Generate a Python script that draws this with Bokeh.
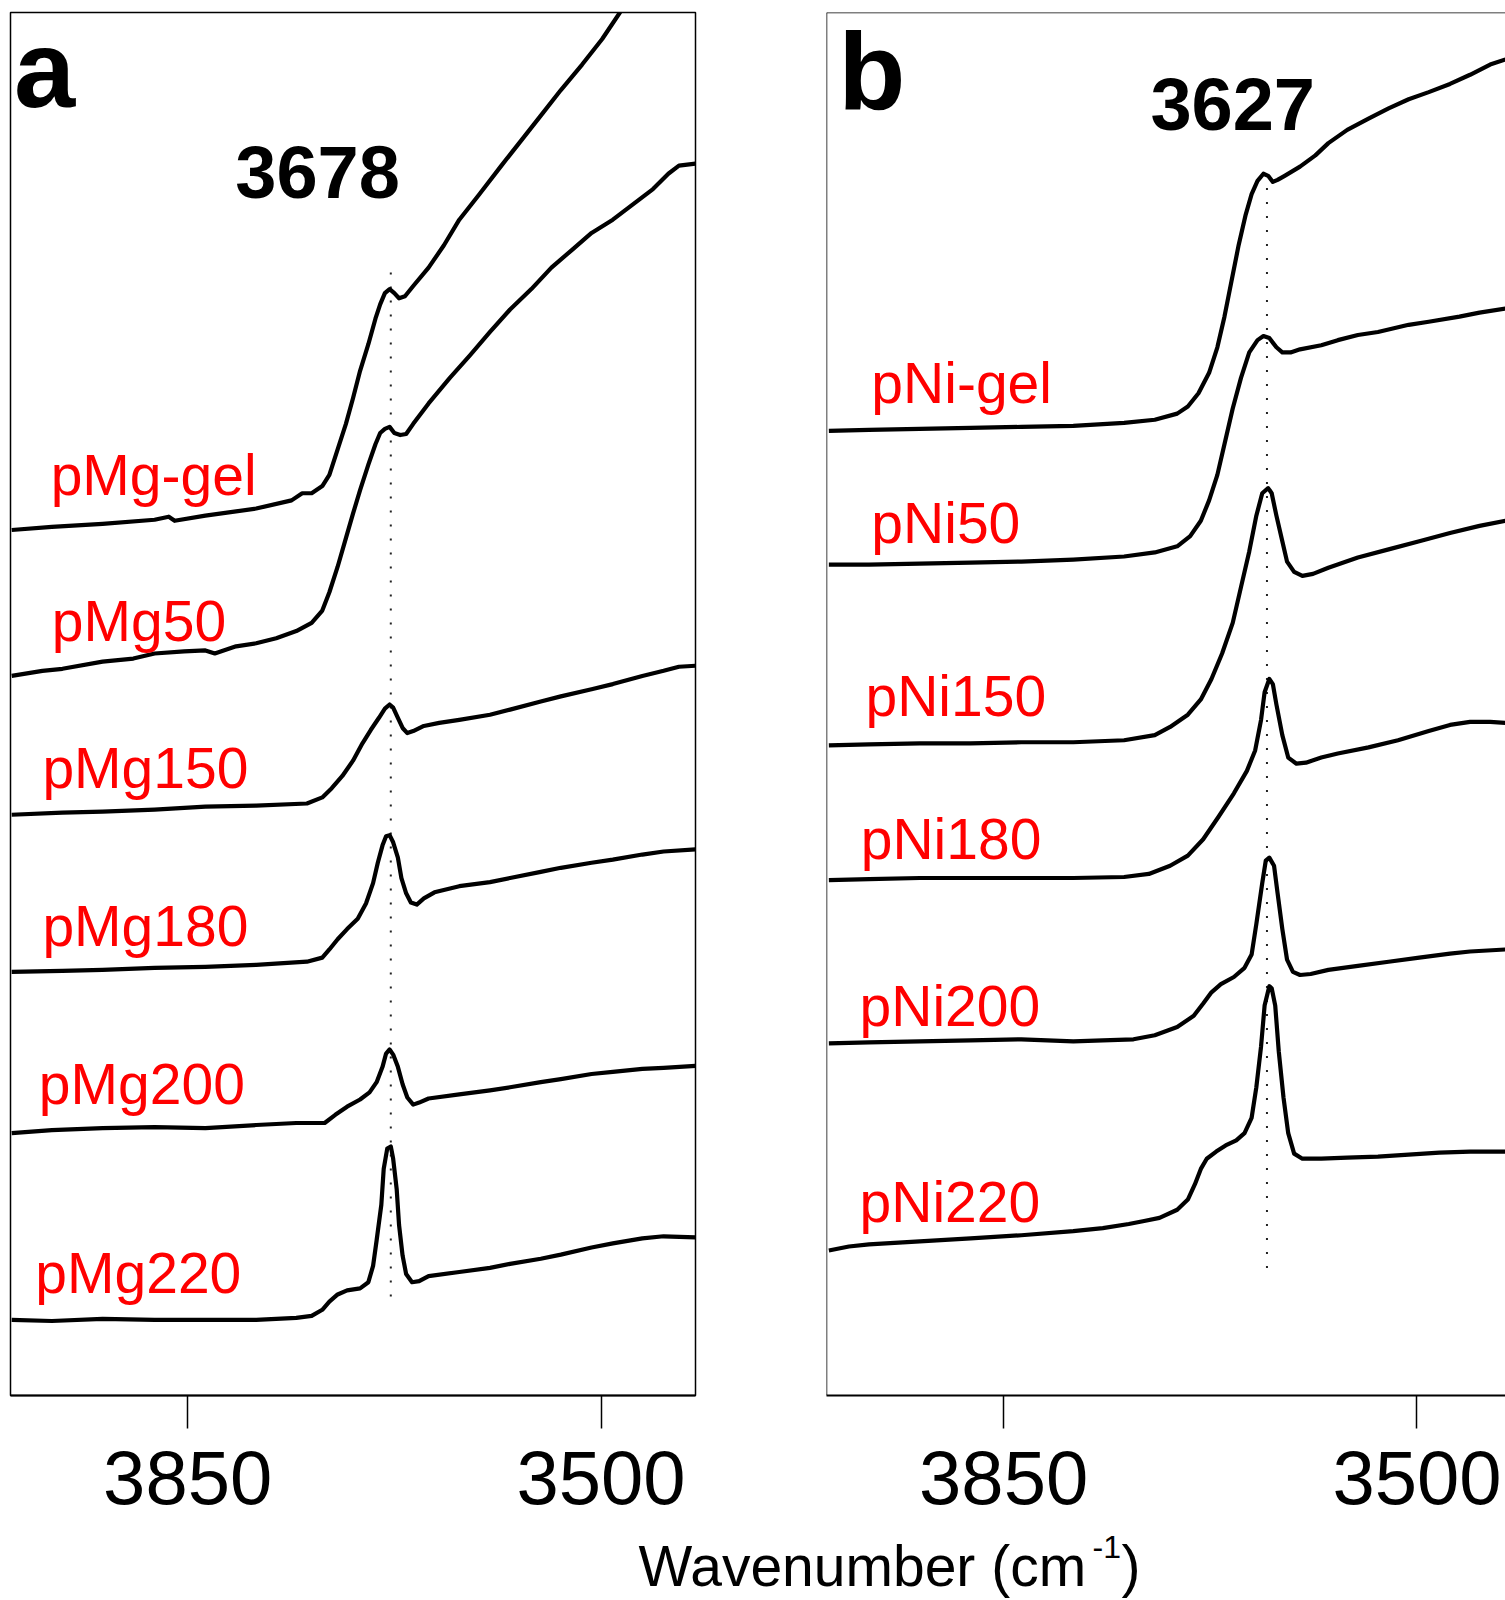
from bokeh.plotting import figure
from bokeh.models import Range1d, FixedTicker, Label, Span
from bokeh.layouts import column, row
from bokeh.embed import file_html
from bokeh.resources import INLINE

FONT = "Liberation Sans"

# ---------------- data (wavenumber in cm-1, absorbance in arbitrary offset units) ----------------
# panel a : Mg samples
wn_mg_gel = [3999, 3965, 3922, 3878, 3866, 3861, 3835, 3792, 3762, 3753, 3745, 3736, 3730, 3723, 3716, 3710,
             3704, 3697, 3691, 3687, 3683, 3679, 3675, 3671, 3666, 3659, 3646, 3633, 3620, 3603, 3585, 3568,
             3551, 3534, 3516, 3499, 3484, 3456, 3420]
ab_mg_gel = [8.48, 8.51, 8.54, 8.58, 8.61, 8.57, 8.62, 8.69, 8.77, 8.84, 8.84, 8.91, 9.02, 9.27, 9.52, 9.77,
             10.04, 10.30, 10.55, 10.69, 10.80, 10.84, 10.80, 10.75, 10.77, 10.87, 11.05, 11.27, 11.52, 11.77,
             12.04, 12.29, 12.54, 12.79, 13.04, 13.29, 13.55, 13.97, 14.52]

wn_mg50 = [3999, 3973, 3956, 3922, 3896, 3878, 3853, 3835, 3827, 3809, 3792, 3775, 3758, 3745, 3736, 3730,
           3723, 3716, 3710, 3704, 3697, 3691, 3687, 3683, 3679, 3675, 3670, 3665, 3659, 3646, 3628, 3611,
           3594, 3577, 3559, 3542, 3525, 3508, 3490, 3473, 3456, 3443, 3434, 3420]
ab_mg50 = [7.05, 7.10, 7.12, 7.19, 7.22, 7.27, 7.29, 7.30, 7.27, 7.34, 7.37, 7.42, 7.49, 7.57, 7.69, 7.87,
           8.12, 8.40, 8.64, 8.87, 9.12, 9.32, 9.43, 9.47, 9.49, 9.43, 9.41, 9.42, 9.52, 9.72, 9.97, 10.19,
           10.42, 10.64, 10.84, 11.05, 11.22, 11.39, 11.52, 11.67, 11.82, 11.97, 12.05, 12.07]

wn_mg150 = [3999, 3956, 3922, 3878, 3835, 3792, 3749, 3736, 3728, 3719, 3710, 3702, 3695, 3688, 3683, 3679,
            3676, 3672, 3668, 3664, 3659, 3650, 3637, 3620, 3594, 3577, 3551, 3534, 3508, 3490, 3465, 3447,
            3434, 3420]
ab_mg150 = [5.69, 5.71, 5.72, 5.74, 5.77, 5.78, 5.80, 5.86, 5.95, 6.07, 6.22, 6.39, 6.52, 6.64, 6.73, 6.77,
            6.74, 6.64, 6.54, 6.49, 6.51, 6.56, 6.59, 6.62, 6.67, 6.72, 6.80, 6.85, 6.92, 6.97, 7.05, 7.10,
            7.14, 7.15]

wn_mg180 = [3999, 3956, 3922, 3878, 3835, 3792, 3749, 3736, 3730, 3723, 3715, 3706, 3699, 3693, 3689, 3685,
            3682, 3679, 3676, 3672, 3669, 3665, 3661, 3656, 3650, 3641, 3620, 3594, 3577, 3551, 3534, 3508,
            3490, 3465, 3447, 3420]
ab_mg180 = [4.15, 4.16, 4.17, 4.19, 4.20, 4.22, 4.25, 4.29, 4.37, 4.47, 4.57, 4.67, 4.82, 5.02, 5.22, 5.39,
            5.48, 5.49, 5.42, 5.27, 5.07, 4.92, 4.83, 4.81, 4.87, 4.93, 4.99, 5.03, 5.07, 5.13, 5.17, 5.22,
            5.25, 5.30, 5.33, 5.35]

wn_mg200 = [3999, 3965, 3922, 3878, 3835, 3792, 3758, 3734, 3725, 3715, 3704, 3696, 3690, 3685, 3682, 3679,
            3676, 3672, 3668, 3664, 3659, 3654, 3646, 3620, 3594, 3577, 3551, 3534, 3508, 3490, 3465, 3447,
            3420]
ab_mg200 = [2.57, 2.60, 2.62, 2.63, 2.62, 2.65, 2.67, 2.67, 2.75, 2.83, 2.90, 2.97, 3.07, 3.22, 3.35, 3.39,
            3.34, 3.22, 3.05, 2.92, 2.85, 2.87, 2.91, 2.95, 2.99, 3.02, 3.07, 3.10, 3.15, 3.17, 3.20, 3.21,
            3.23]

wn_mg220 = [3999, 3965, 3922, 3878, 3835, 3792, 3758, 3745, 3736, 3730, 3723, 3715, 3704, 3697, 3693, 3690,
            3686, 3684, 3681, 3678, 3676, 3673, 3671, 3668, 3665, 3660, 3654, 3646, 3620, 3594, 3577, 3551,
            3534, 3508, 3490, 3465, 3447, 3420]
ab_mg220 = [0.74, 0.73, 0.75, 0.74, 0.74, 0.74, 0.76, 0.78, 0.84, 0.92, 0.99, 1.03, 1.05, 1.11, 1.27, 1.52,
            1.87, 2.22, 2.42, 2.44, 2.32, 2.02, 1.67, 1.37, 1.19, 1.11, 1.12, 1.17, 1.21, 1.25, 1.29, 1.34,
            1.38, 1.45, 1.49, 1.54, 1.56, 1.55]

# panel b : Ni samples
wn_ni_gel = [3998, 3964, 3921, 3878, 3835, 3791, 3748, 3722, 3703, 3694, 3685, 3676, 3669, 3663, 3657, 3651,
             3645, 3640, 3635, 3630, 3626, 3622, 3618, 3612, 3599, 3586, 3575, 3559, 3541, 3524, 3507, 3490,
             3472, 3455, 3438, 3425]
ab_ni_gel = [9.45, 9.46, 9.47, 9.48, 9.49, 9.50, 9.53, 9.56, 9.62, 9.69, 9.82, 10.02, 10.27, 10.57, 10.92,
             11.27, 11.57, 11.77, 11.90, 11.97, 11.95, 11.89, 11.91, 11.95, 12.04, 12.15, 12.27, 12.40, 12.51,
             12.61, 12.70, 12.77, 12.85, 12.94, 13.04, 13.09]

wn_ni50 = [3998, 3964, 3921, 3878, 3835, 3791, 3748, 3722, 3703, 3692, 3683, 3676, 3669, 3663, 3656, 3649,
           3642, 3635, 3630, 3625, 3619, 3614, 3607, 3599, 3581, 3567, 3550, 3533, 3507, 3490, 3464, 3447,
           3425]
ab_ni50 = [8.14, 8.14, 8.15, 8.16, 8.17, 8.19, 8.22, 8.26, 8.32, 8.42, 8.57, 8.77, 9.02, 9.32, 9.67, 9.97,
           10.22, 10.34, 10.38, 10.36, 10.27, 10.22, 10.22, 10.25, 10.29, 10.34, 10.39, 10.42, 10.49, 10.52,
           10.57, 10.61, 10.65]

wn_ni150 = [3998, 3964, 3921, 3878, 3835, 3791, 3748, 3722, 3709, 3694, 3683, 3674, 3665, 3656, 3649, 3642,
            3636, 3631, 3626, 3623, 3619, 3614, 3610, 3604, 3597, 3588, 3575, 3550, 3524, 3498, 3472, 3447,
            3425]
ab_ni150 = [6.37, 6.38, 6.39, 6.39, 6.40, 6.40, 6.42, 6.47, 6.55, 6.67, 6.82, 7.02, 7.27, 7.57, 7.92, 8.27,
            8.62, 8.84, 8.89, 8.84, 8.62, 8.37, 8.17, 8.07, 8.03, 8.05, 8.11, 8.21, 8.29, 8.37, 8.45, 8.52,
            8.57]

wn_ni180 = [3998, 3964, 3921, 3878, 3835, 3791, 3748, 3727, 3709, 3694, 3681, 3668, 3655, 3644, 3637, 3632,
            3629, 3625, 3622, 3619, 3614, 3609, 3602, 3594, 3581, 3567, 3541, 3516, 3490, 3472, 3455, 3438,
            3425]
ab_ni180 = [5.05, 5.06, 5.07, 5.07, 5.07, 5.07, 5.08, 5.11, 5.19, 5.29, 5.45, 5.67, 5.90, 6.12, 6.32, 6.62,
            6.89, 7.02, 6.97, 6.77, 6.47, 6.25, 6.19, 6.20, 6.25, 6.29, 6.35, 6.42, 6.51, 6.57, 6.60, 6.60,
            6.59]

wn_ni200 = [3998, 3964, 3921, 3878, 3835, 3791, 3766, 3740, 3722, 3703, 3689, 3681, 3674, 3666, 3655, 3646,
            3640, 3636, 3631, 3628, 3625, 3621, 3618, 3614, 3610, 3605, 3599, 3590, 3575, 3550, 3524, 3498,
            3472, 3455, 3425]
ab_ni200 = [3.45, 3.46, 3.47, 3.48, 3.49, 3.47, 3.48, 3.49, 3.53, 3.61, 3.72, 3.84, 3.95, 4.03, 4.10, 4.19,
            4.32, 4.62, 5.02, 5.24, 5.27, 5.19, 4.92, 4.57, 4.27, 4.15, 4.12, 4.13, 4.17, 4.21, 4.25, 4.29,
            4.33, 4.35, 4.37]

wn_ni220 = [3998, 3981, 3964, 3921, 3878, 3835, 3791, 3766, 3744, 3731, 3718, 3703, 3694, 3688, 3683, 3678,
            3670, 3662, 3653, 3646, 3640, 3636, 3632, 3629, 3625, 3623, 3620, 3617, 3613, 3609, 3604, 3597,
            3581, 3559, 3533, 3507, 3481, 3455, 3425]
ab_ni220 = [1.42, 1.46, 1.48, 1.51, 1.54, 1.57, 1.61, 1.64, 1.68, 1.71, 1.74, 1.82, 1.92, 2.07, 2.22, 2.32,
            2.39, 2.45, 2.50, 2.57, 2.72, 3.02, 3.42, 3.82, 4.01, 3.99, 3.82, 3.37, 2.92, 2.57, 2.37, 2.32,
            2.32, 2.33, 2.34, 2.36, 2.38, 2.39, 2.39]

mg_names = ["pMg-gel", "pMg50", "pMg150", "pMg180", "pMg200", "pMg220"]
ni_names = ["pNi-gel", "pNi50", "pNi150", "pNi180", "pNi200", "pNi220"]
mg_series = [(wn_mg_gel, ab_mg_gel), (wn_mg50, ab_mg50), (wn_mg150, ab_mg150),
             (wn_mg180, ab_mg180), (wn_mg200, ab_mg200), (wn_mg220, ab_mg220)]
ni_series = [(wn_ni_gel, ab_ni_gel), (wn_ni50, ab_ni50), (wn_ni150, ab_ni150),
             (wn_ni180, ab_ni180), (wn_ni200, ab_ni200), (wn_ni220, ab_ni220)]

tick_values = [3850, 3500]
peak_a = 3678
peak_b = 3627

# annotation placement (data coordinates)
mg_label_x = [3966, 3965, 3973, 3973, 3976, 3979]
mg_label_y = [9.02, 7.59, 6.15, 4.60, 3.05, 1.20]
ni_label_x = [3962, 3962, 3967, 3971, 3972, 3972]
ni_label_y = [9.92, 8.55, 6.85, 5.45, 3.82, 1.90]
peak_a_span = [0.97, 11.01]
peak_b_span = [1.25, 12.07]

Y_MAX = 13.55


def make_panel(width, x_end, border_left, border_right, outline):
    p = figure(width=width, height=1530, x_range=Range1d(4000, x_end), y_range=Range1d(0, Y_MAX),
               output_backend="svg", toolbar_location=None, y_axis_location=None,
               min_border_left=border_left, min_border_right=border_right,
               min_border_top=12, min_border_bottom=135)
    p.grid.visible = False
    p.background_fill_color = "white"
    p.border_fill_color = "white"
    if outline:
        p.outline_line_color = "black"
        p.outline_line_width = 1.5
    else:
        p.outline_line_color = None
    ax = p.xaxis[0]
    ax.ticker = FixedTicker(ticks=tick_values)
    ax.major_tick_out = 33
    ax.major_tick_in = 0
    ax.minor_tick_out = 0
    ax.minor_tick_in = 0
    ax.major_tick_line_width = 1.5
    ax.major_tick_line_color = "black"
    ax.axis_line_width = 2
    ax.axis_line_color = "black"
    ax.major_label_text_font = FONT
    ax.major_label_text_font_size = "76px"
    ax.major_label_text_color = "black"
    ax.major_label_standoff = 22
    return p


def add_curves(p, series, names, lx, ly, peak, span, peak_text, peak_tx, peak_ty, letter, letter_x, letter_y):
    p.line([peak, peak], span, line_color="#222222", line_width=2, line_dash="2 12")
    for (wn, ab) in series:
        p.line(wn, ab, line_color="black", line_width=4.2, line_join="round")
    for name, x, y in zip(names, lx, ly):
        p.add_layout(Label(x=x, y=y, text=name, text_font=FONT, text_font_size="57px",
                           text_color="#ff0000", text_align="left", text_baseline="alphabetic"))
    p.add_layout(Label(x=peak_tx, y=peak_ty, text=peak_text, text_font=FONT, text_font_size="74px",
                       text_font_style="bold", text_color="black", text_align="center",
                       text_baseline="alphabetic"))
    p.add_layout(Label(x=letter_x, y=letter_y, text=letter, text_font=FONT, text_font_size="110px",
                       text_font_style="bold", text_color="black", text_align="left",
                       text_baseline="alphabetic"))


pa = make_panel(761, 3420, 10, 66, True)
add_curves(pa, mg_series, mg_names, mg_label_x, mg_label_y, peak_a, peak_a_span,
           str(peak_a), 3740, 11.99, "a", 3997, 13.0)

pb = make_panel(744, 3425, 65, 0, False)
pb.add_layout(Span(location=Y_MAX, dimension="width", line_color="black", line_width=1.5))
pb.add_layout(Span(location=4000, dimension="height", line_color="black", line_width=1.5))
add_curves(pb, ni_series, ni_names, ni_label_x, ni_label_y, peak_b, peak_b_span,
           str(peak_b), 3656, 12.65, "b", 3990, 12.98)

# shared x-axis title
pl = figure(width=1505, height=70, x_range=Range1d(0, 1505), y_range=Range1d(0, 70),
            output_backend="svg", toolbar_location=None, x_axis_location=None, y_axis_location=None,
            min_border=0)
pl.grid.visible = False
pl.outline_line_color = None
pl.add_layout(Label(x=638, y=35, text="Wavenumber (cm", text_font=FONT, text_font_size="57px",
                    text_color="black", text_align="left", text_baseline="alphabetic"))
pl.add_layout(Label(x=1092, y=54, text="-1", text_font=FONT, text_font_size="32px",
                    text_color="black", text_align="left", text_baseline="alphabetic"))
pl.add_layout(Label(x=1121, y=35, text=")", text_font=FONT, text_font_size="57px",
                    text_color="black", text_align="left", text_baseline="alphabetic"))

layout = column(row(pa, pb), pl)
open("out.html", "w").write(file_html(layout, INLINE))
